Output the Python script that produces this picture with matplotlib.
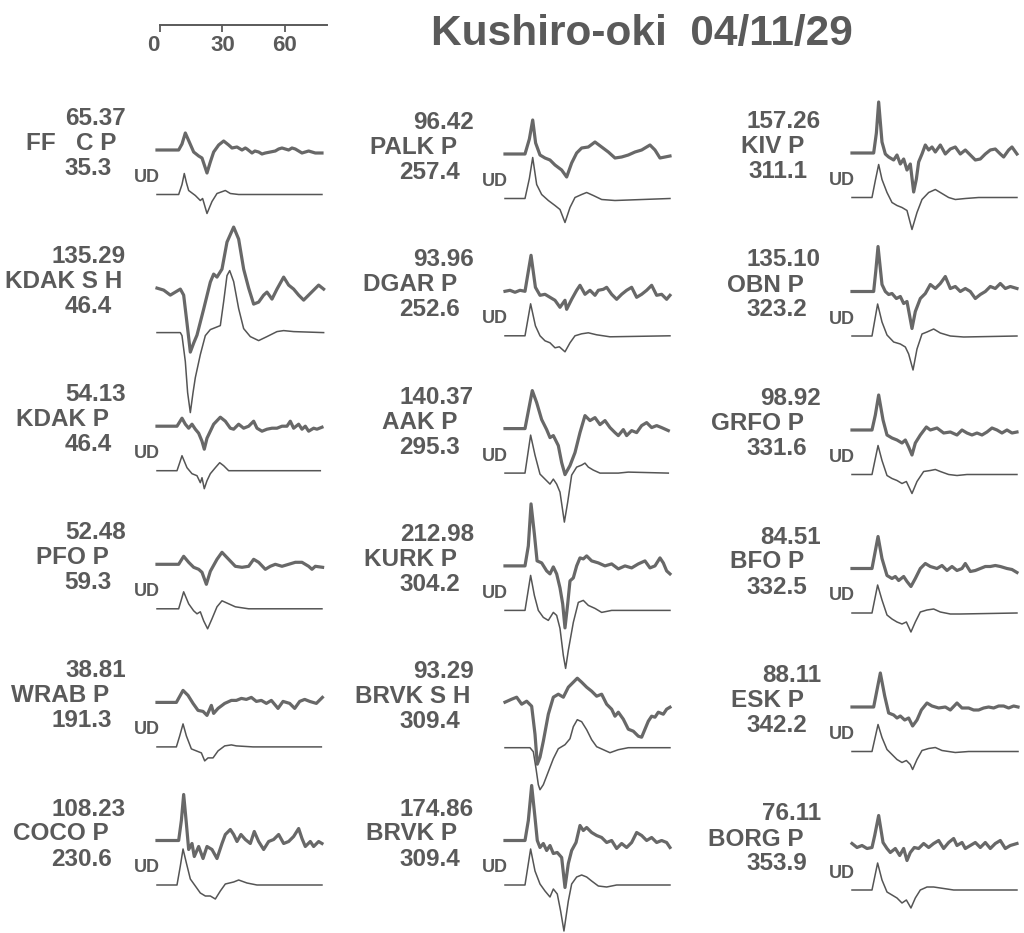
import numpy as np
import matplotlib
matplotlib.use("Agg")
import matplotlib.pyplot as plt

plt.rcParams['font.family'] = ['Liberation Sans', 'DejaVu Sans']
plt.rcParams['font.weight'] = 'bold'

W, H = 1024, 933
PX_PER_S = 2.083          # horizontal scale of every trace
TXT = "#5a5a5a"
OBS_C = "#686868"
SYN_C = "#555555"

# --- waveforms: (time s, amplitude) -------------------------------------
# column 1
ff_obs = [(0, 0), (10.4, 0), (12.0, 6), (13.6, 17), (15.5, 8), (17.6, -2), (20.0, -6), (21.6, -8),
          (24.0, -23), (25.6, -12), (27.2, -2), (29.6, 5), (32.0, 9), (34.4, 5), (36.0, 2), (38.4, 3),
          (40.8, 0), (42.4, 2), (43.2, 1), (45.6, -3), (47.0, -1), (48.8, -2), (50.4, -4), (52.0, -3),
          (54.4, -2), (56.8, -1), (58.4, 1), (60.0, 2), (61.6, 1), (63.2, 0), (64.8, 2), (66.4, 1),
          (68.0, -1), (69.6, -3), (71.2, -2), (72.8, -1), (74.4, -2), (76.0, -3), (79.2, -3)]
ff_syn = [(0, 0), (10.4, 0), (12.0, 10), (13.1, 21), (14.1, 12), (15.2, 4), (18.4, -1), (20.8, -6),
          (21.9, -4), (24.0, -19), (26.4, -7), (28.8, 1), (32.8, 4), (35.2, 1), (39.2, 0), (79.2, 0)]

kdak_s_obs = [(0, 0), (3.2, -2), (6.4, -7), (8.8, -4), (11.2, -1), (12.8, -7), (14.4, -35), (16.0, -64),
              (17.6, -55), (19.2, -47), (22.4, -21), (25.6, 6), (27.2, 14), (28.8, 11), (31.2, 19),
              (33.6, 46), (36.8, 61), (39.2, 49), (41.6, 19), (44.0, 0), (46.4, -16), (48.8, -14),
              (51.2, -7), (52.8, -4), (55.2, -11), (57.6, -1), (60.8, 11), (63.2, 3), (65.6, -1),
              (68.0, -7), (70.4, -12), (72.8, -7), (75.2, -2), (77.6, 3), (80.0, -1)]
kdak_s_syn = [(0, 0), (11.2, 0), (12.0, -3), (13.6, -29), (14.7, -60), (16.0, -80), (17.3, -60),
              (18.4, -45), (20.8, -22), (23.2, -3), (25.6, 3), (30.4, 7), (32.0, 31), (33.6, 57),
              (34.9, 62), (36.8, 51), (39.2, 24), (41.6, 4), (44.8, -4), (48.8, -8), (52.8, -4),
              (57.6, 1), (60.8, 2), (65.6, 1), (80.0, 0)]

kdak_p_obs = [(0, 0), (9.6, 0), (12.0, 8), (13.6, 2), (15.2, -2), (16.8, 2), (18.4, -3), (20.0, -7),
              (21.6, -15), (22.7, -23), (24.0, -12), (27.2, 2), (30.4, 9), (32.8, 5), (35.2, -2),
              (36.8, -3), (39.2, 2), (41.6, -2), (44.0, 0), (46.4, 5), (48.0, -2), (50.4, -5), (52.8, -3),
              (55.2, -2), (57.6, -2), (60.0, 0), (62.4, 0), (64.0, 5), (65.6, -2), (68.0, 2), (69.6, -3),
              (71.2, 0), (72.8, -5), (75.2, -2), (76.8, -3), (79.2, -1)]
kdak_p_syn = [(0, 0), (9.6, 0), (10.9, 8), (12.0, 15), (14.4, 3), (16.8, -3), (19.2, -5), (20.8, -12),
              (21.6, -7), (22.7, -18), (24.0, -10), (25.6, -3), (28.0, 3), (30.1, 8), (32.0, 5),
              (34.4, 0), (78.4, 0)]

pfo_obs = [(0, 0), (10.4, 0), (12.8, 8), (15.2, 2), (17.6, -3), (20.0, -5), (21.6, -8), (23.7, -20),
           (25.6, -7), (28.8, 5), (31.2, 12), (34.4, 5), (37.6, -2), (40.8, -3), (44.0, -2), (46.4, 5),
           (48.8, 2), (52.0, -5), (54.4, -2), (56.8, 0), (60.0, -2), (63.2, 0), (66.4, 2), (69.6, 2),
           (72.8, -2), (74.4, -5), (76.0, -2), (79.5, -3)]
pfo_syn = [(0, 0), (10.4, 0), (12.8, 17), (15.2, 5), (17.6, -2), (19.2, -5), (20.8, -3), (22.4, -12),
           (24.3, -20), (26.4, -10), (28.8, 2), (31.2, 8), (34.4, 5), (37.6, 2), (44.0, 0), (79.2, 0)]

wrab_obs = [(0, 0), (9.3, 0), (12.5, 12), (14.9, 7), (17.3, -1), (19.7, -8), (22.1, -9), (24.0, -13),
            (26.1, -3), (27.2, -11), (29.3, -6), (32.5, -1), (35.7, 2), (38.1, 2), (40.5, 4), (42.9, 3),
            (45.3, 5), (47.7, 1), (50.1, 2), (52.5, -1), (54.9, 2), (58.1, -6), (60.5, 1), (63.7, -1),
            (66.1, -6), (68.5, 1), (70.9, 3), (73.3, 1), (76.5, -1), (79.4, 5)]
wrab_syn = [(0, 0), (9.3, 0), (10.9, 11), (12.5, 23), (14.1, 11), (16.5, -2), (18.9, -4), (21.3, -6),
            (22.9, -14), (24.5, -11), (26.9, -11), (29.3, -4), (32.5, 1), (35.7, 2), (38.1, 1),
            (46.1, 0), (78.9, 0)]

coco_obs = [(0, 0), (10.4, 0), (11.7, 20), (12.8, 46), (14.1, 17), (15.2, -9), (16.8, -3), (17.9, -16),
            (20.0, -6), (22.1, -18), (24.0, -6), (26.4, -9), (28.8, -18), (31.2, -3), (32.8, 6),
            (35.2, 11), (36.8, 6), (38.4, -1), (40.3, 6), (42.4, 1), (44.8, -3), (46.7, 9), (48.8, -1),
            (51.2, -9), (53.6, -1), (56.0, 1), (58.4, 6), (60.8, -3), (63.2, -1), (65.6, 4), (68.0, 12),
            (69.6, 2), (71.2, -6), (73.6, -1), (75.2, -6), (77.6, -1), (79.2, -3)]
coco_syn = [(0, 0), (9.6, 0), (11.2, 19), (12.5, 36), (14.1, 22), (16.0, 6), (18.4, -1), (20.8, -8),
            (23.2, -11), (25.6, -11), (28.0, -14), (30.4, -6), (32.8, 1), (36.8, 3), (39.2, 5),
            (43.2, 2), (48.0, 0), (79.2, 0)]

# column 2
palk_obs = [(0, 0), (9.6, 0), (11.7, 15), (13.3, 34), (14.7, 11), (16.8, -1), (19.2, -4), (21.6, -6),
            (24.0, -11), (27.2, -16), (29.6, -23), (32.0, -9), (34.4, 1), (36.8, 6), (40.0, 7),
            (43.2, 12), (46.4, 7), (49.6, 2), (52.8, -4), (56.0, -3), (59.2, -1), (62.4, 2), (65.6, 4),
            (69.6, 9), (72.0, 4), (74.4, -4), (76.8, -3), (79.2, -2)]
palk_syn = [(0, 0), (9.6, 0), (11.7, 20), (13.3, 41), (15.2, 14), (17.6, 4), (20.8, -2), (24.0, -7),
            (26.4, -11), (28.8, -24), (31.2, -9), (33.6, 1), (36.8, 4), (39.2, 6), (42.4, 3),
            (46.4, -1), (52.8, -2), (79.2, 0)]

dgar_obs = [(0, 0), (2.4, 1), (4.8, -1), (7.2, 1), (9.6, 0), (11.2, 20), (12.5, 36), (14.6, 4),
            (16.8, -4), (19.2, -3), (21.6, -6), (24.0, -9), (26.4, -16), (28.8, -9), (29.6, -18),
            (32.0, -8), (34.4, 1), (36.0, 6), (38.4, -3), (40.8, 1), (43.2, -4), (44.8, 1), (47.2, 2),
            (48.8, 4), (51.2, -3), (53.6, -8), (56.0, -3), (58.4, 1), (60.8, 4), (63.2, -6), (65.6, -3),
            (68.0, 1), (70.4, 6), (72.8, -4), (75.2, -3), (77.6, -8), (79.2, -4)]
dgar_syn = [(0, 0), (9.6, 0), (12.3, 32), (14.6, 10), (16.8, 0), (19.2, -5), (21.6, -7), (24.0, -12),
            (26.1, -11), (28.8, -16), (31.2, -7), (33.6, 0), (36.8, 2), (40.0, 3), (44.0, 1),
            (50.4, -1), (79.2, 0)]

aak_obs = [(0, 0), (9.6, 0), (12.0, 26), (13.1, 38), (15.2, 26), (17.6, 9), (20.0, -1), (21.6, -9),
           (23.2, -7), (25.6, -17), (27.2, -34), (28.8, -46), (31.2, -37), (33.6, -24), (36.0, -4),
           (38.4, 13), (40.8, 8), (43.2, 11), (45.6, 4), (48.0, 8), (50.4, 1), (52.8, -4), (54.4, -7),
           (56.8, -1), (58.4, -7), (60.8, -2), (63.2, -4), (65.6, 3), (68.0, 6), (70.4, 1), (72.8, 3),
           (75.2, 1), (78.4, -2)]
aak_syn = [(0, 0), (9.6, 0), (12.3, 38), (14.4, 18), (16.8, -1), (19.2, -6), (21.6, -11), (23.2, -6),
           (24.8, -11), (26.4, -19), (28.5, -49), (30.1, -29), (32.0, -2), (34.4, 6), (36.8, 8),
           (38.4, 10), (40.0, 6), (42.4, 3), (45.6, 0), (54.4, 0), (59.2, 1), (78.4, 0)]

kurk_obs = [(0, 0), (9.6, 0), (11.2, 20), (12.5, 62), (14.1, 32), (15.4, 5), (17.6, 3), (20.0, -5),
            (21.6, -8), (23.2, -1), (24.8, -8), (26.4, -22), (27.7, -38), (28.8, -62), (30.1, -38),
            (31.2, -15), (32.8, -12), (34.4, 0), (36.0, 8), (37.6, 7), (39.2, 10), (41.6, 5), (44.8, 3),
            (48.0, 0), (51.2, 2), (54.4, -3), (57.6, 0), (60.8, -2), (64.0, 2), (67.2, 5), (69.6, -2),
            (72.0, 0), (74.4, 8), (76.0, 3), (77.6, -5), (79.2, -8)]
kurk_syn = [(0, 0), (9.6, 0), (12.3, 35), (14.1, 15), (16.0, 0), (18.4, -7), (20.8, -10), (23.2, -2),
            (24.8, -5), (26.4, -18), (28.0, -45), (29.1, -58), (30.4, -40), (32.8, -12), (35.2, 8),
            (37.6, 10), (40.0, 5), (43.2, 2), (46.4, -2), (51.2, 0), (79.2, 0)]

brvk_s_obs = [(0, 1), (3.2, 4), (5.6, 6), (8.0, -1), (10.4, 2), (12.8, -3), (14.4, -31), (15.5, -61),
              (16.8, -54), (18.4, -38), (20.8, -11), (23.2, 6), (25.6, 9), (28.0, 6), (30.4, 16),
              (32.8, 21), (34.7, 25), (36.8, 21), (39.2, 16), (41.6, 12), (44.0, 7), (46.4, 9),
              (48.8, -1), (51.2, -6), (52.8, -13), (54.4, -9), (56.8, -16), (59.2, -26), (61.6, -28),
              (64.0, -33), (65.6, -34), (67.2, -26), (68.8, -18), (70.4, -13), (72.0, -14), (73.6, -9),
              (76.0, -11), (77.6, -6), (79.2, -4)]
brvk_s_syn = [(0, 0), (12.0, 0), (13.6, -4), (14.9, -21), (16.0, -37), (16.8, -42), (18.4, -37),
              (20.8, -24), (23.2, -11), (25.6, -1), (28.8, 3), (31.2, 9), (32.8, 21), (34.7, 28),
              (36.8, 26), (39.2, 18), (41.6, 8), (44.0, 1), (47.2, -2), (50.4, -5), (54.4, -2),
              (59.2, 0), (79.2, 0)]

brvk_p_obs = [(0, 0), (9.6, 0), (11.2, 20), (12.8, 55), (14.4, 23), (15.5, 0), (16.8, -7), (18.4, -3),
              (20.0, -10), (21.6, -5), (23.2, -13), (25.1, -12), (27.2, -17), (28.8, -47), (30.4, -23),
              (32.0, -10), (34.1, -2), (36.0, 15), (37.6, 10), (39.2, 13), (41.6, 8), (44.0, 5),
              (46.4, 3), (48.8, -2), (51.2, 0), (53.6, -8), (56.0, -3), (58.4, -7), (60.8, -2),
              (63.2, 8), (65.6, 5), (68.0, 0), (70.4, 3), (72.8, -2), (75.2, 0), (77.6, -2), (79.2, -7)]
brvk_p_syn = [(0, 0), (9.6, 0), (12.3, 36), (14.4, 14), (16.8, 1), (19.2, -6), (21.6, -12), (23.2, -4),
              (25.1, -9), (26.7, -26), (28.3, -46), (30.4, -16), (32.0, 1), (34.4, 8), (36.8, 10),
              (39.2, 8), (41.6, 4), (44.8, -1), (48.8, -2), (53.6, 0), (79.2, 0)]

# column 3
kiv_obs = [(0, 0), (10.4, 0), (11.7, 20), (12.8, 51), (14.4, 11), (16.0, -1), (17.6, -4), (20.0, -7),
           (21.6, -2), (23.2, -11), (24.8, -6), (26.4, -17), (28.0, -11), (29.6, -39), (30.9, -26),
           (32.0, -9), (33.6, -1), (35.2, 8), (36.8, 3), (38.4, 6), (40.0, 1), (42.4, 8), (44.8, -1),
           (47.2, 4), (49.6, 6), (52.0, -1), (54.4, 3), (56.8, -2), (59.2, -7), (61.6, -6), (64.0, -1),
           (66.4, 3), (68.8, 4), (71.2, -1), (72.8, -4), (75.2, 3), (76.8, 6), (79.2, -1)]
kiv_syn = [(0, 0), (9.6, 0), (11.2, 17), (12.8, 33), (14.4, 18), (16.8, 5), (19.2, -5), (21.6, -8),
           (24.0, -10), (26.4, -13), (28.8, -32), (31.2, -15), (33.6, -2), (36.8, 5), (40.0, 8),
           (42.4, 5), (46.4, 0), (49.6, -2), (54.4, -1), (60.8, 0), (79.2, 0)]

obn_obs = [(0, 0), (10.4, 0), (11.4, 20), (12.5, 45), (14.4, 7), (16.0, 0), (17.6, -3), (19.2, -2),
           (21.3, -7), (23.2, -5), (24.8, -12), (26.4, -10), (28.8, -37), (30.4, -20), (32.8, -7),
           (35.2, -2), (37.6, 7), (40.0, 3), (42.4, 8), (44.8, 15), (47.2, 3), (49.6, 5), (52.0, 0),
           (54.4, 3), (56.8, 0), (59.2, -7), (61.6, -3), (64.0, 0), (66.4, 5), (68.8, 3), (71.2, 8),
           (73.6, 3), (76.0, 5), (79.2, 3)]
obn_syn = [(0, 0), (9.6, 0), (12.3, 32), (14.4, 14), (16.8, 1), (20.0, -6), (23.2, -8), (25.6, -11),
           (27.2, -18), (29.3, -34), (31.2, -13), (33.6, 2), (36.0, 4), (39.2, 7), (42.4, 3),
           (47.2, 0), (53.6, -1), (79.2, 0)]

grfo_obs = [(0, 0), (9.6, 0), (11.2, 15), (12.8, 35), (14.9, 10), (16.8, -5), (19.2, -8), (21.6, -10),
            (24.0, -13), (25.6, -10), (27.2, -17), (28.8, -25), (30.4, -13), (32.8, -5), (35.7, 3),
            (37.6, 0), (40.8, 2), (44.0, -3), (47.2, -2), (50.4, -5), (52.8, 0), (55.2, -3), (57.6, -5),
            (60.0, -3), (62.4, -5), (64.8, -2), (67.2, 2), (69.6, 0), (72.0, -3), (74.4, 0), (76.8, -3),
            (79.2, -2)]
grfo_syn = [(0, 0), (9.6, 0), (12.5, 29), (14.4, 14), (16.8, -1), (19.2, -4), (21.6, -6), (24.0, -9),
            (26.1, -7), (28.8, -19), (31.2, -7), (34.4, 3), (37.6, 4), (40.0, 5), (42.4, 3),
            (46.4, 0), (50.4, -1), (55.2, 0), (79.2, 0)]

bfo_obs = [(0, 0), (9.6, 0), (12.5, 32), (14.4, 10), (16.8, -7), (19.2, -10), (20.8, -8), (22.4, -12),
           (24.8, -8), (26.4, -13), (28.3, -18), (30.4, -10), (32.8, 0), (35.2, 5), (37.6, 2), (40.8, 0),
           (43.2, 3), (45.6, -2), (48.0, 2), (50.4, -2), (52.8, 0), (54.4, 5), (56.8, -3), (59.2, -2),
           (61.6, 0), (64.0, 2), (66.4, 2), (68.8, 3), (71.2, 2), (74.4, 0), (76.8, -1), (79.2, -4)]
bfo_syn = [(0, 0), (9.6, 0), (12.3, 28), (14.4, 13), (16.8, -2), (19.2, -6), (21.6, -9), (24.0, -11),
           (26.1, -9), (28.3, -19), (30.4, -9), (32.8, 1), (36.0, 3), (39.2, 4), (42.4, 1),
           (47.2, -1), (52.0, -1), (79.2, 0)]

esk_obs = [(0, 0), (10.4, 0), (13.6, 34), (15.7, 11), (17.6, -6), (20.0, -8), (21.6, -11), (23.2, -9),
           (25.3, -13), (27.2, -11), (29.1, -19), (31.2, -13), (33.3, -3), (36.0, 4), (38.4, 1),
           (41.6, -1), (44.8, 0), (47.2, -3), (50.4, 4), (52.8, -1), (56.0, -1), (58.4, -3), (60.8, -3),
           (63.2, -1), (65.6, 0), (68.0, -1), (70.4, 1), (72.8, 1), (75.2, -1), (77.6, 1), (79.7, 0)]
esk_syn = [(0, 0), (9.6, 0), (12.5, 27), (14.4, 14), (16.8, 2), (19.2, -3), (21.6, -8), (24.0, -11),
           (26.1, -9), (28.0, -13), (29.1, -18), (31.2, -8), (33.6, 1), (36.8, 3), (40.0, 4),
           (43.2, 1), (49.6, -1), (56.0, 0), (79.7, 0)]

borg_obs = [(0, 2), (2.4, -2), (4.8, 0), (7.2, -3), (9.6, -2), (10.9, 10), (12.8, 30), (14.9, 3),
            (16.8, -3), (18.4, -7), (20.8, -3), (22.9, -10), (24.8, -3), (26.4, -15), (28.0, -7),
            (29.9, -2), (32.0, -3), (34.4, 2), (36.8, -2), (39.2, 2), (41.6, 5), (44.0, -3), (46.4, 3),
            (48.8, 7), (50.4, 0), (52.8, 3), (54.4, -3), (56.8, 0), (59.2, 3), (61.6, -2), (64.0, 3),
            (66.4, -3), (68.8, 2), (71.2, 5), (73.6, -3), (76.0, 0), (79.2, 2)]
borg_syn = [(0, 0), (9.6, 0), (12.3, 27), (14.4, 10), (16.8, -2), (19.2, -5), (21.6, -8), (24.0, -13),
            (26.1, -10), (28.3, -18), (30.4, -8), (32.8, 0), (36.0, 3), (39.2, 3), (42.4, 2),
            (48.8, 0), (79.2, 0)]

# --- station annotations, column by column --------------------------------
upper_vals = ["65.37", "135.29", "54.13", "52.48", "38.81", "108.23",
              "96.42", "93.96", "140.37", "212.98", "93.29", "174.86",
              "157.26", "135.10", "98.92", "84.51", "88.11", "76.11"]
station_labels = ["FF   C P", "KDAK S H", "KDAK P", "PFO P", "WRAB P", "COCO P",
                  "PALK P", "DGAR P", "AAK P", "KURK P", "BRVK S H", "BRVK P",
                  "KIV P", "OBN P", "GRFO P", "BFO P", "ESK P", "BORG P"]
lower_vals = ["35.3", "46.4", "46.4", "59.3", "191.3", "230.6",
              "257.4", "252.6", "295.3", "304.2", "309.4", "309.4",
              "311.1", "323.2", "331.6", "332.5", "342.2", "353.9"]
observed = [ff_obs, kdak_s_obs, kdak_p_obs, pfo_obs, wrab_obs, coco_obs,
            palk_obs, dgar_obs, aak_obs, kurk_obs, brvk_s_obs, brvk_p_obs,
            kiv_obs, obn_obs, grfo_obs, bfo_obs, esk_obs, borg_obs]
synthetic = [ff_syn, kdak_s_syn, kdak_p_syn, pfo_syn, wrab_syn, coco_syn,
             palk_syn, dgar_syn, aak_syn, kurk_syn, brvk_s_syn, brvk_p_syn,
             kiv_syn, obn_syn, grfo_syn, bfo_syn, esk_syn, borg_syn]

scale_ticks = [0, 30, 60]
title = "Kushiro-oki  04/11/29"

# --- layout (pixels) -------------------------------------------------------
col_x = [157, 505, 852]
col_y = [(150, 138.1), (154, 137.3), (153, 138.5)]
SYN_OFF = 44.5
SPAN = 80.0

fig = plt.figure(figsize=(W / 100, H / 100), dpi=100)


def px_axes(x0, y0, w, h):
    ax = fig.add_axes([x0 / W, 1 - (y0 + h) / H, w / W, h / H])
    ax.set_axis_off()
    return ax


def put(x, y, s, size, ha='right'):
    fig.text(x / W, 1 - y / H, s, ha=ha, va='baseline', fontsize=size,
             fontweight='bold', color=TXT)


for i in range(18):
    c, r = divmod(i, 6)
    x0 = col_x[c]
    y0 = col_y[c][0] + col_y[c][1] * r
    ax = px_axes(x0, y0 - 90, SPAN * PX_PER_S, 220)
    ax.set_xlim(0, SPAN)
    ax.set_ylim(-130, 90)
    o = np.array(observed[i])
    s = np.array(synthetic[i])
    ax.plot(o[:, 0], o[:, 1], color=OBS_C, lw=2.3, solid_joinstyle='round', clip_on=False)
    ax.plot(s[:, 0], s[:, 1] - SYN_OFF, color=SYN_C, lw=1.1, clip_on=False)

    lab = station_labels[i]
    if lab.endswith("H"):
        mid_dx = -35
    elif lab.startswith("FF"):
        mid_dx = -41
    else:
        mid_dx = -48
    put(x0 - 31, y0 - 25, upper_vals[i], 17.5)
    put(x0 + mid_dx, y0 + 0, lab, 17.5)
    put(x0 - 45, y0 + 25, lower_vals[i], 17.5)
    if not lab.endswith("H"):
        put(x0 - 23, y0 + 32, "UD", 13, ha='left')

# time scale bar
sax = fig.add_axes([160 / W, 1 - 25 / H, SPAN * PX_PER_S / W, 1 / H])
sax.set_xlim(0, SPAN)
sax.set_yticks([])
for side in ['top', 'left', 'right']:
    sax.spines[side].set_visible(False)
sax.spines['bottom'].set_color(TXT)
sax.spines['bottom'].set_linewidth(1.4)
sax.set_xticks(scale_ticks)
sax.set_xticklabels([str(t) for t in scale_ticks], fontweight='bold')
sax.tick_params(axis='x', direction='out', length=5, width=1.3, colors=TXT,
                labelsize=16, pad=2)
sax.get_xticklabels()[0].set_horizontalalignment('right')
sax.patch.set_visible(False)

put(642, 45, title, 30.5, ha='center')

fig.savefig("out.png", dpi=100, facecolor='white')
